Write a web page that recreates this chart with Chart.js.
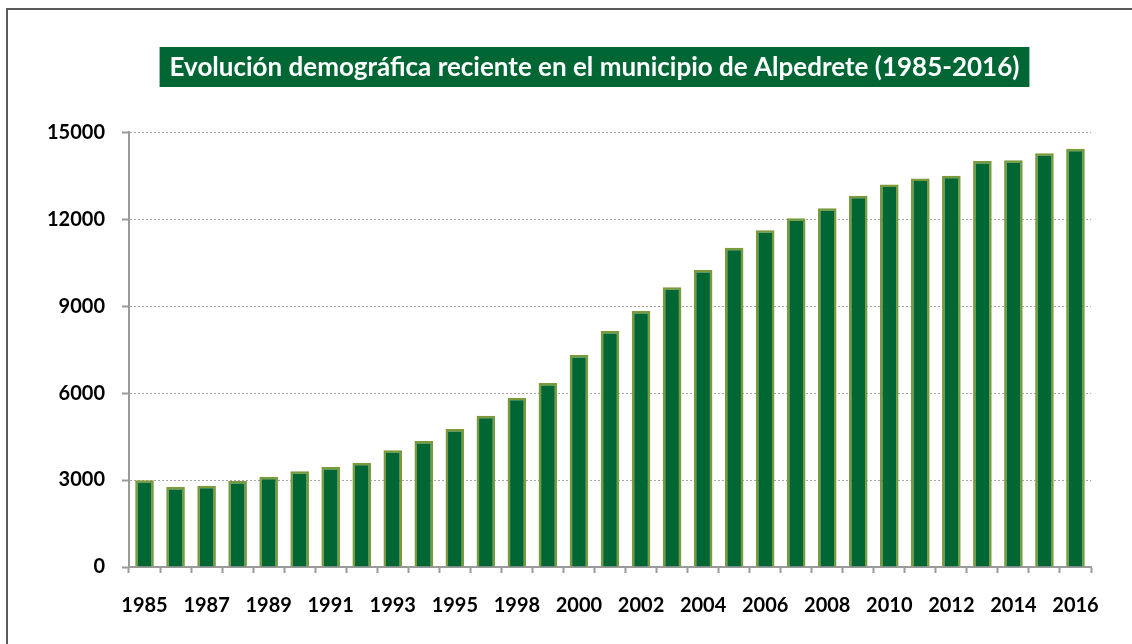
<!DOCTYPE html>
<html>
<head>
<meta charset="utf-8">
<script src="https://cdn.jsdelivr.net/npm/chart.js@4"></script>
<style>
	html, body { margin: 0; padding: 0; background: #fff; }
	#wrap { position: relative; width: 1132px; height: 644px; }
</style>
</head>
<body>
<div id="wrap"><canvas id="chart" width="1132" height="644"></canvas></div>
<script>
const years = ['1985', '1986', '1987', '1988', '1989', '1990', '1991', '1992', '1993', '1994', '1995', '1996',
	'1998', '1999', '2000', '2001', '2002', '2003', '2004', '2005', '2006', '2007', '2008', '2009', '2010',
	'2011', '2012', '2013', '2014', '2015', '2016'];

const population = [2990, 2760, 2805, 2965, 3115, 3300, 3450, 3600, 4025, 4345, 4760, 5220,
	5840, 6345, 7310, 8140, 8830, 9655, 10250, 11010, 11620, 12035, 12380, 12805, 13195,
	13405, 13495, 14010, 14035, 14275, 14425];

const yTicks = [0, 3000, 6000, 9000, 12000, 15000];

const titleText = 'Evolución demográfica reciente en el municipio de Alpedrete (1985-2016)';

const FONT = 'Lato, "Open Sans", sans-serif';
const TITLE_SIZE = 26;

// green box behind the title + grey frame of the sheet
const decorations = {
	id: 'decorations',
	afterLayout(chart) {
		// the title sits a bit right of the canvas centre in the original
		chart.titleBlock.left = 98;
	},
	beforeDraw(chart) {
		const c = chart.ctx;
		c.save();
		c.fillStyle = '#5a5a5a';
		c.fillRect(6, 8, 1132, 2);
		c.fillRect(6, 8, 2, 644);
		const tb = chart.titleBlock;
		c.font = 'bold ' + TITLE_SIZE + 'px ' + FONT;
		const w = c.measureText(titleText).width;
		const cx = (tb.left + tb.right) / 2;
		c.fillStyle = '#006633';
		c.fillRect(cx - w / 2 - 10, 47, w + 20, 40);
		c.restore();
	}
};

const config = {
	type: 'bar',
	data: {
		labels: years,
		datasets: [{
			data: population,
			backgroundColor: '#006633',
			borderColor: '#7a9a3c',
			borderWidth: 2.5,
			borderSkipped: 'bottom',
			categoryPercentage: 1,
			barPercentage: 0.6
		}]
	},
	options: {
		responsive: false,
		animation: false,
		layout: { padding: { left: 0, right: 41, top: 0, bottom: 0 } },
		plugins: {
			legend: { display: false },
			tooltip: { enabled: false },
			title: {
				display: true,
				text: titleText,
				color: '#ffffff',
				font: { family: FONT, size: TITLE_SIZE, weight: 'bold', lineHeight: 1.2 },
				padding: { top: 52, bottom: 49 }
			}
		},
		scales: {
			x: {
				grid: {
					display: true,
					drawOnChartArea: false,
					drawTicks: true,
					tickLength: 6,
					tickColor: '#9a9a9a',
					tickWidth: 2,
					offset: true
				},
				border: { display: true, color: '#9a9a9a', width: 2 },
				ticks: {
					autoSkip: false,
					maxRotation: 0,
					padding: 21,
					color: '#000',
					font: { family: FONT, size: 20, weight: 'bold' },
					callback: (v, i) => (i % 2 === 0 ? years[i] : '')
				},
				afterFit: (scale) => { scale.height = 77; }
			},
			y: {
				min: 0,
				max: 15000,
				afterBuildTicks: (scale) => { scale.ticks = yTicks.map(v => ({ value: v })); },
				grid: {
					color: '#a6a6a6',
					lineWidth: 1,
					tickLength: 7,
					tickColor: '#9a9a9a',
					tickWidth: 2
				},
				border: { display: true, color: '#9a9a9a', width: 2, dash: [2, 2] },
				ticks: {
					padding: 17,
					color: '#000',
					font: { family: FONT, size: 20, weight: 'bold' },
					callback: (v) => String(v)
				},
				afterFit: (scale) => { scale.width = 129; }
			}
		}
	},
	plugins: [decorations]
};

new Chart(document.getElementById('chart'), config);
</script>
</body>
</html>
